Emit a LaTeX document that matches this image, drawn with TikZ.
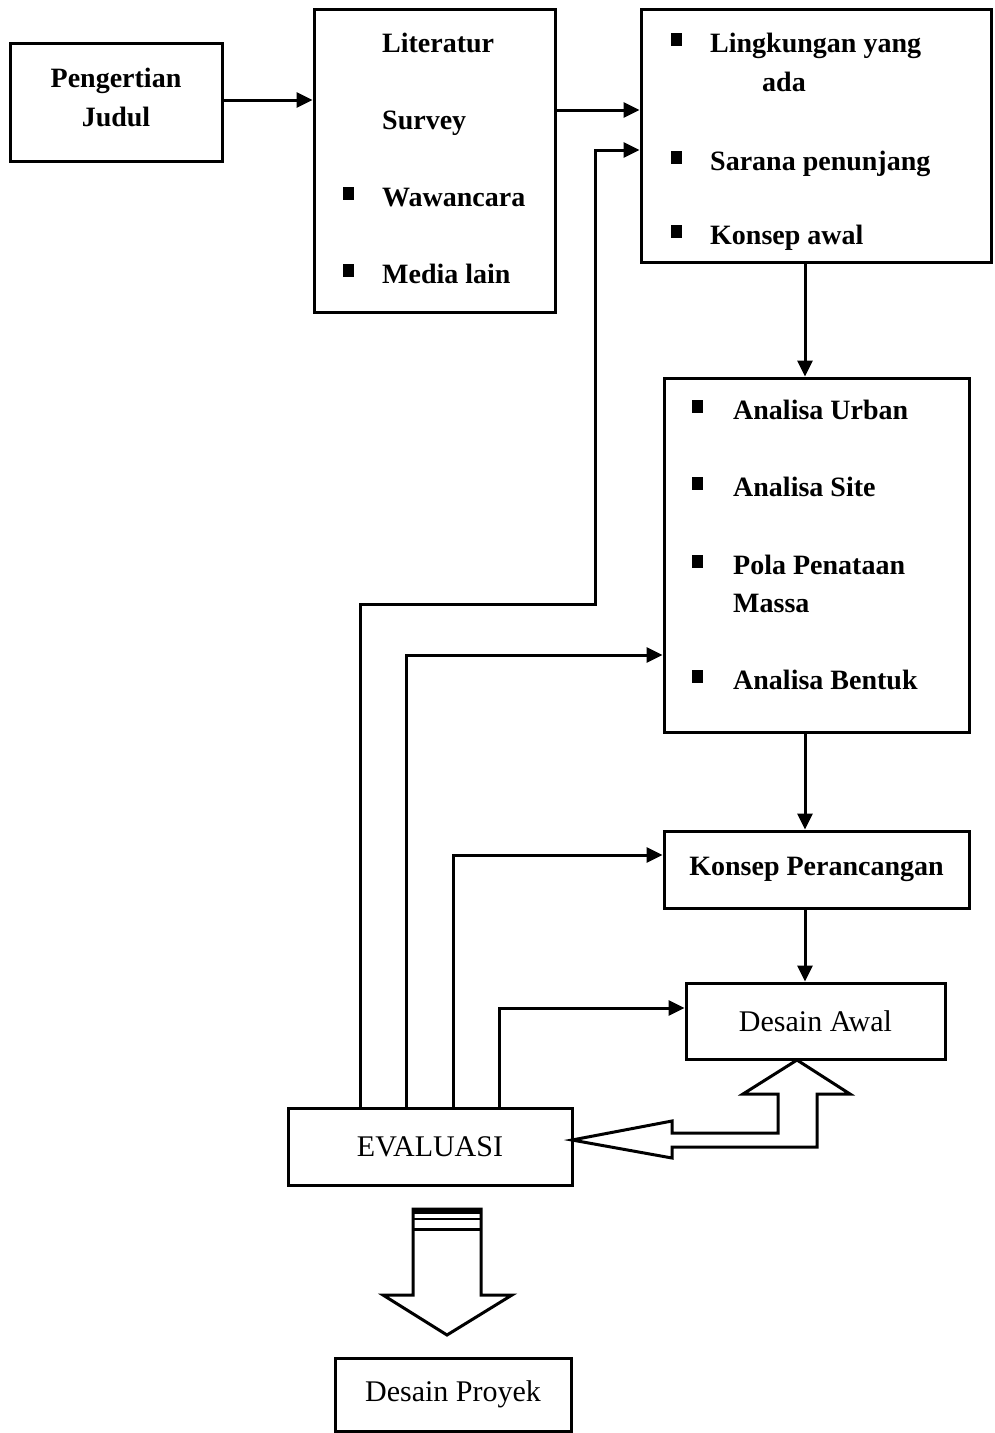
\documentclass[tikz,border=0pt]{standalone}
\usepackage{fontspec}
\setmainfont{Liberation Serif}
\usetikzlibrary{arrows.meta}
\begin{document}
\begin{tikzpicture}[x=1pt,y=-1pt,
  box/.style={draw, line width=3pt, inner sep=0pt},
  boldtext/.style={font=\bfseries\fontsize{28}{39}\selectfont},
  plaintext/.style={font=\fontsize{30}{36}\selectfont},
  item/.style={anchor=base west, inner sep=0pt, boldtext},
  dot/.style={fill, inner sep=0pt, minimum width=11pt, minimum height=13pt},
  link/.style={line width=3pt},
  arr/.style={link, -{Triangle[length=16pt,width=15pt]}},
  blockarrow/.style={draw, line width=3pt, fill=white, line join=miter}
]
\useasboundingbox (0,0) rectangle (994,1433);

% boxes
\node[box, minimum width=212pt, minimum height=118pt] (judul) at (116,102) {};
\node[boldtext, align=center, inner sep=0pt] (judultext) at (116,97) {Pengertian\\Judul};
\node[box, minimum width=241pt, minimum height=303pt] (lit) at (434.5,160.5) {};
\node[box, minimum width=350pt, minimum height=253pt] (ling) at (816,135.5) {};
\node[box, minimum width=305pt, minimum height=354pt] (ana) at (816.5,555) {};
\node[box, boldtext, minimum width=305pt, minimum height=77pt] (kons) at (816.5,869.5) {Konsep Perancangan};
\node[box, plaintext, minimum width=259pt, minimum height=76pt] (awal) at (815.5,1021) {Desain Awal};
\node[box, plaintext, minimum width=284pt, minimum height=77pt] (eval) at (430,1146.5) {EVALUASI};
\node[box, plaintext, minimum width=236pt, minimum height=73pt] (proyek) at (453,1394.5) {Desain Proyek};

% list in the literature box
\node[item] (t1) at (382,52) {Literatur};
\node[item] (t2) at (382,129) {Survey};
\node[dot] (d3) at (348,193) {};
\node[item] (t3) at (382,206) {Wawancara};
\node[dot] (d4) at (348,270) {};
\node[item] (t4) at (382,283) {Media lain};

% list in the context box
\node[dot] (e1) at (676,39) {};
\node[item] (u1) at (710,52) {Lingkungan yang};
\node[item] (u1b) at (762,91) {ada};
\node[dot] (e2) at (676,157) {};
\node[item] (u2) at (710,170) {Sarana penunjang};
\node[dot] (e3) at (676,231) {};
\node[item] (u3) at (710,244) {Konsep awal};

% list in the analysis box
\node[dot] (f1) at (697,406) {};
\node[item] (v1) at (733,419) {Analisa Urban};
\node[dot] (f2) at (697,483) {};
\node[item] (v2) at (733,496) {Analisa Site};
\node[dot] (f3) at (697,561) {};
\node[item] (v3) at (733,574) {Pola Penataan};
\node[item] (v3b) at (733,612) {Massa};
\node[dot] (f4) at (697,676) {};
\node[item] (v4) at (733,689) {Analisa Bentuk};

% main flow
\draw[arr] (judul.east |- 0,100) -- (lit.west |- 0,100);
\draw[arr] (lit.east |- 0,110) -- (ling.west |- 0,110);
\draw[arr] (805,0 |- ling.south) -- (805,0 |- ana.north);
\draw[arr] (805,0 |- ana.south) -- (805,0 |- kons.north);
\draw[arr] (805,0 |- kons.south) -- (805,0 |- awal.north);

% feedback from the evaluation
\draw[arr] (360,0 |- eval.north) |- (595,604) |- (ling.west |- 0,150);
\draw[arr] (406,0 |- eval.north) |- (ana.west |- 0,655);
\draw[arr] (453,0 |- eval.north) |- (kons.west |- 0,855);
\draw[arr] (499,0 |- eval.north) |- (awal.west |- 0,1008);

% hollow two-way arrow between design and evaluation
\draw[blockarrow] (572,1140) -- (672,1121) -- (672,1133) -- (778,1133) -- (778,1094)
  -- (743,1094) -- (797,1060) -- (850,1094) -- (817,1094) -- (817,1147)
  -- (672,1147) -- (672,1158) -- cycle;

% hollow arrow down to the project design
\draw[blockarrow] (413,1209) -- (413,1295) -- (383,1295) -- (447,1335) -- (512,1295)
  -- (481,1295) -- (481,1209) -- cycle;
\draw[line width=6pt] (412,1211) -- (482,1211);
\draw[line width=2pt] (413,1219) -- (481,1219);
\draw[line width=3pt] (413,1229) -- (481,1229);
\end{tikzpicture}
\end{document}
